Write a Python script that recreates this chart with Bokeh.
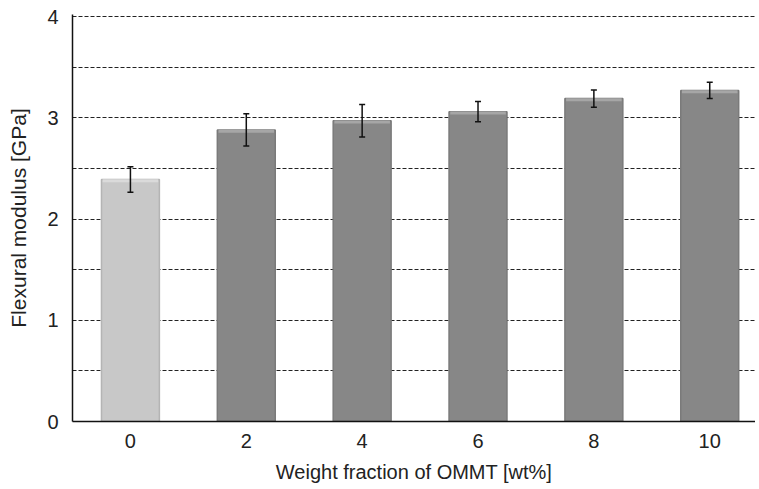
from bokeh.plotting import figure
from bokeh.models import Range1d, FixedTicker, ColumnDataSource, Whisker, TeeHead
from bokeh.embed import file_html
from bokeh.resources import INLINE

# Data
wt_fraction = [0, 2, 4, 6, 8, 10]
modulus = [2.39, 2.88, 2.97, 3.06, 3.19, 3.27]
modulus_err = [0.125, 0.16, 0.16, 0.10, 0.085, 0.08]
bar_colors = ["#c8c8c8", "#878787", "#878787", "#878787", "#878787", "#878787"]
edge_colors = ["#b4b4b4", "#7a7a7a", "#7a7a7a", "#7a7a7a", "#7a7a7a", "#7a7a7a"]
top_colors = ["#dadada", "#a6a6a6", "#a6a6a6", "#a6a6a6", "#a6a6a6", "#a6a6a6"]
y_ticks = [0, 1, 2, 3, 4]
grid_ticks = [0.5, 1, 1.5, 2, 2.5, 3, 3.5, 4]

src = ColumnDataSource(dict(
    x=wt_fraction,
    top=modulus,
    upper=[m + e for m, e in zip(modulus, modulus_err)],
    lower=[m - e for m, e in zip(modulus, modulus_err)],
    color=bar_colors,
    edge=edge_colors,
    topc=top_colors,
    x0=[x - 0.48 for x in wt_fraction],
    x1=[x + 0.48 for x in wt_fraction],
    ytop=[m - 0.012 for m in modulus],
))

p = figure(width=755, height=485, output_backend="svg", toolbar_location=None,
           x_range=Range1d(-1.0, 10.79), y_range=Range1d(0, 4.02),
           min_border_left=72, min_border_right=0, min_border_top=14, min_border_bottom=64)
p.outline_line_color = None
p.background_fill_color = "white"

p.vbar(x="x", top="top", width=1.0, bottom=0, source=src,
       fill_color="color", line_color="edge", line_width=1.5)
p.segment(x0="x0", y0="ytop", x1="x1", y1="ytop", source=src,
          line_color="topc", line_width=3)

whisk = Whisker(base="x", upper="upper", lower="lower", source=src,
                line_color="#111111", line_width=1.5, level="overlay",
                upper_head=TeeHead(size=6, line_color="#111111", line_width=1.5),
                lower_head=TeeHead(size=6, line_color="#111111", line_width=1.5))
p.add_layout(whisk)

# grid
p.xgrid.grid_line_color = None
p.ygrid.ticker = FixedTicker(ticks=grid_ticks)
p.ygrid.grid_line_color = "#222222"
p.ygrid.grid_line_dash = "4 2"
p.ygrid.grid_line_width = 1

# axes
p.xaxis.ticker = FixedTicker(ticks=wt_fraction)
p.yaxis.ticker = FixedTicker(ticks=y_ticks)
for ax in (p.xaxis[0], p.yaxis[0]):
    ax.axis_line_color = "#111111"
    ax.axis_line_width = 1.5
    ax.major_tick_line_color = None
    ax.minor_tick_line_color = None
    ax.major_label_text_font = "Liberation Sans"
    ax.major_label_text_font_size = "20px"
    ax.major_label_text_color = "#222222"
    ax.axis_label_text_font = "Liberation Sans"
    ax.axis_label_text_font_style = "normal"
    ax.axis_label_text_color = "#222222"

p.xaxis.axis_label = "Weight fraction of OMMT [wt%]"
p.yaxis.axis_label = "Flexural modulus [GPa]"
p.xaxis.axis_label_text_font_size = "20px"
p.yaxis.axis_label_text_font_size = "21px"
p.xaxis.major_label_standoff = 6
p.yaxis.major_label_standoff = 8
p.xaxis.axis_label_standoff = 10
p.yaxis.axis_label_standoff = 14

open("out.html", "w").write(file_html(p, INLINE))
